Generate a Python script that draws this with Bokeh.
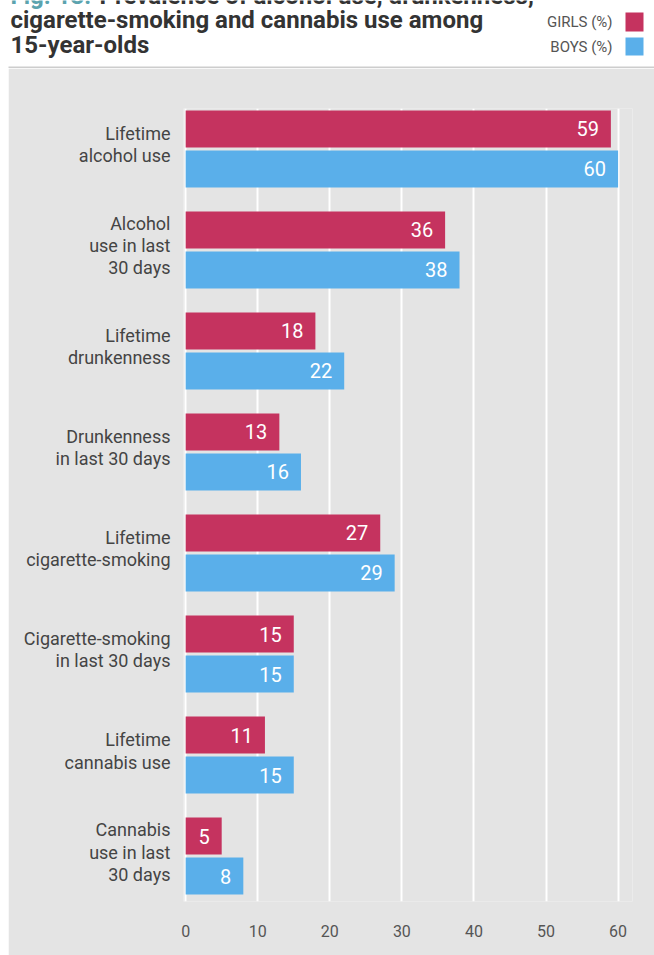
import numpy as np
from bokeh.plotting import figure
from bokeh.models import Range1d, FixedTicker, ColumnDataSource
from bokeh.layouts import column
from bokeh.core.properties import value
from bokeh.embed import file_html
from bokeh.resources import INLINE

# ---- data ----
categories = [
    "Lifetime\nalcohol use",
    "Alcohol\nuse in last\n30 days",
    "Lifetime\ndrunkenness",
    "Drunkenness\nin last 30 days",
    "Lifetime\ncigarette-smoking",
    "Cigarette-smoking\nin last 30 days",
    "Lifetime\ncannabis use",
    "Cannabis\nuse in last\n30 days",
]
girls = [59, 36, 18, 13, 27, 15, 11, 5]
boys = [60, 38, 22, 16, 29, 15, 15, 8]
x_ticks = [0, 10, 20, 30, 40, 50, 60]
series_names = ["GIRLS (%)", "BOYS (%)"]
series_colors = ["#C5335F", "#5AAFEA"]
fig_label = "Fig. 13:"
title_lines = ["Prevalence of alcohol use, drunkenness,",
               "cigarette-smoking and cannabis use among",
               "15-year-olds"]

FONT = "Roboto"
BG = "#E4E4E4"

# ---- title strip (coordinates = pixels, y downward) ----
t = figure(width=654, height=68, x_range=Range1d(0, 654), y_range=Range1d(68, 0),
           output_backend="svg", toolbar_location=None, x_axis_type=None, y_axis_type=None,
           min_border=0, min_border_left=0, min_border_right=0, min_border_top=0, min_border_bottom=0)
t.outline_line_color = None
t.grid.visible = False
t.background_fill_color = "white"
t.border_fill_color = "white"

t.text(x=[10], y=[-5], text=[fig_label], text_font=value(FONT), text_font_style="bold",
       text_font_size="24px", text_color="#5BA3AE", text_baseline="alphabetic", text_align="left")
t.text(x=[99, 10, 10], y=[-5, 19, 44], text=title_lines, text_font=value(FONT), text_font_style="bold",
       text_font_size="24px", text_color="#333333", text_baseline="alphabetic", text_align="left")
t.text(x=[612, 612], y=[21, 46], text=series_names, text_font=value(FONT),
       text_font_size="15px", text_color="#555555", text_baseline="middle", text_align="right")
t.quad(left=[625, 625], right=[643, 643], top=[12, 37], bottom=[31, 55],
       fill_color=series_colors, line_color=None)
t.quad(left=[8], right=[654], top=[66], bottom=[68], fill_color="#CDCDCD", line_color=None)

# ---- chart ----
n = len(categories)
ypos = np.arange(n)[::-1].astype(float)  # top group first
src = ColumnDataSource(dict(y_g=ypos + 0.198, y_b=ypos - 0.198, girls=girls, boys=boys,
                            gl=[str(v) for v in girls], bl=[str(v) for v in boys]))

p = figure(width=646, height=887, x_range=Range1d(-0.3, 62), y_range=Range1d(-0.45, 7.40),
           output_backend="svg", toolbar_location=None,
           min_border_left=175, min_border_right=22, min_border_top=40, min_border_bottom=54)
p.margin = (0, 0, 0, 8)
p.background_fill_color = BG
p.border_fill_color = BG
p.outline_line_color = None

for fig in (t, p):
    if "frame_align" in fig.properties():
        fig.frame_align = False

p.hbar(y="y_g", left=0, right="girls", height=0.366, source=src,
       fill_color=series_colors[0], line_color=None)
p.hbar(y="y_b", left=0, right="boys", height=0.366, source=src,
       fill_color=series_colors[1], line_color=None)

p.text(x="girls", y="y_g", text="gl", source=src, x_offset=-12, text_align="right",
       text_baseline="middle", text_color="white", text_font=value(FONT), text_font_size="20px")
p.text(x="boys", y="y_b", text="bl", source=src, x_offset=-12, text_align="right",
       text_baseline="middle", text_color="white", text_font=value(FONT), text_font_size="20px")

p.xaxis.ticker = FixedTicker(ticks=x_ticks)
p.xaxis.axis_line_color = None
p.xaxis.major_tick_line_color = None
p.xaxis.minor_tick_line_color = None
p.xaxis.major_tick_out = 0
p.xaxis.major_tick_in = 0
p.xaxis.major_label_standoff = 23
p.xaxis.major_label_text_font = FONT
p.xaxis.major_label_text_font_size = "16px"
p.xaxis.major_label_text_color = "#555555"

label_pos = [float(y + 0.04) for y in ypos]  # category labels sit slightly above group centre
p.yaxis.ticker = FixedTicker(ticks=label_pos)
p.yaxis.major_label_overrides = {y: c for y, c in zip(label_pos, categories)}
p.yaxis.axis_line_color = None
p.yaxis.major_tick_line_color = None
p.yaxis.minor_tick_line_color = None
p.yaxis.major_tick_out = 0
p.yaxis.major_tick_in = 0
p.yaxis.major_label_standoff = 13
p.yaxis.major_label_text_font = FONT
p.yaxis.major_label_text_font_size = "18px"
p.yaxis.major_label_text_color = "#444444"
p.yaxis.major_label_text_line_height = 1.05

p.xgrid.grid_line_color = "white"
p.xgrid.grid_line_width = 2
p.xgrid.ticker = FixedTicker(ticks=x_ticks)
p.ygrid.grid_line_color = None

layout = column(t, p, spacing=0)
open("out.html", "w").write(file_html(layout, INLINE))
